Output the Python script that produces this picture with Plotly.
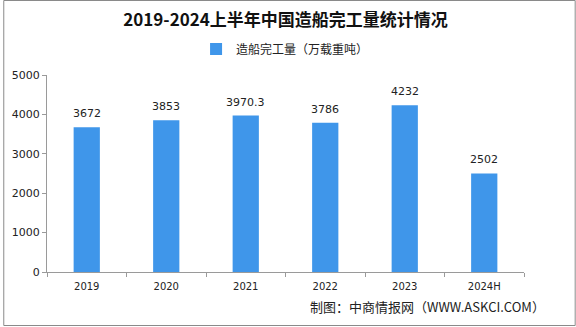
import plotly.graph_objects as go

years = ["2019", "2020", "2021", "2022", "2023", "2024H"]
output = [3672, 3853, 3970.3, 3786, 4232, 2502]
labels = ["3672", "3853", "3970.3", "3786", "4232", "2502"]
y_ticks = [0, 1000, 2000, 3000, 4000, 5000]

W, H = 576, 327
L, R, T, B = 44, 52, 75, 55
pw, ph = W - L - R, H - T - B

def px(x):
    return (x - L) / pw

def py(y):
    return (H - B - y) / ph

fig = go.Figure()
fig.add_trace(go.Bar(
    x=years, y=output, name="造船完工量（万载重吨）",
    marker=dict(color="#3f96ea", line=dict(width=0)),
    width=0.33,
))

# value labels above each bar
for i, (v, s) in enumerate(zip(output, labels)):
    fig.add_annotation(x=i, y=v, text=s, showarrow=False, yanchor="bottom", yshift=5,
                       font=dict(family="DejaVu Sans", size=11, color="#222"))

fig.update_layout(
    width=W, height=H,
    margin=dict(l=L, r=R, t=T, b=B),
    paper_bgcolor="white", plot_bgcolor="white",
    title=dict(text="<b>2019-2024上半年中国造船完工量统计情况</b>",
               x=0.5, xref="paper", xanchor="center", y=1 - 20 / H, yanchor="middle",
               font=dict(family="Noto Sans CJK SC", size=17, color="#111")),
    showlegend=True,
    legend=dict(orientation="h", x=px(194), xanchor="left", y=py(49), yanchor="middle",
                font=dict(family="Noto Sans CJK SC", size=12, color="#222"),
                itemwidth=30, bgcolor="rgba(0,0,0,0)"),
    xaxis=dict(type="category", showline=True, linecolor="#9a9a9a", linewidth=1,
               ticks="outside", ticklen=4, tickcolor="#9a9a9a",
               tickson="boundaries", showgrid=False, ticklabelstandoff=5,
               tickfont=dict(family="DejaVu Sans", size=10, color="#222")),
    yaxis=dict(range=[0, 5000], tickvals=y_ticks, showline=True,
               linecolor="#9a9a9a", linewidth=1, ticks="outside", ticklen=4,
               tickcolor="#9a9a9a", showgrid=False, zeroline=False,
               tickfont=dict(family="DejaVu Sans", size=11, color="#222")),
)

fig.add_annotation(text="制图：中商情报网（WWW.ASKCI.COM）", xref="paper", yref="paper",
                   x=px(547), y=py(306), xanchor="right", yanchor="middle", showarrow=False,
                   font=dict(family="Noto Sans CJK SC", size=13, color="#222"))

fig.add_shape(type="rect", xref="paper", yref="paper",
              x0=px(0.5), x1=px(575.5), y0=py(325.5), y1=py(0.5),
              line=dict(color="#8a8a8a", width=1), layer="below")

fig.write_html("out.html")
